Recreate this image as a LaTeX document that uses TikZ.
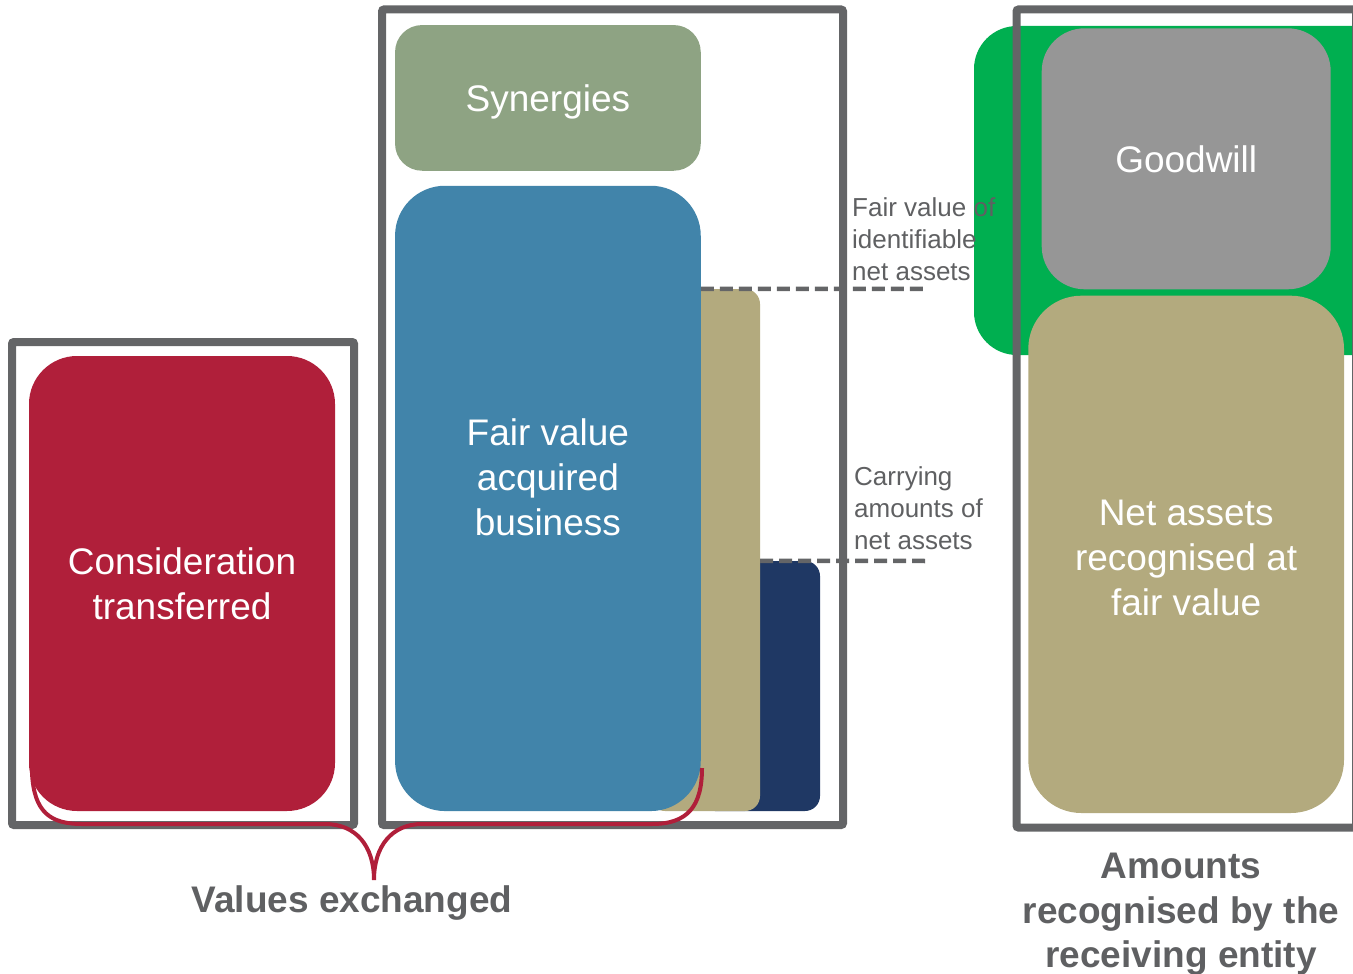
\documentclass[tikz,border=0pt]{standalone}
\usepackage{fontspec}
\setmainfont{Liberation Sans}
\definecolor{framegray}{HTML}{646567}
\definecolor{txtgray}{HTML}{5F6062}
\definecolor{consred}{HTML}{B01F3A}
\definecolor{fvblue}{HTML}{4184AA}
\definecolor{synsage}{HTML}{8EA383}
\definecolor{khaki}{HTML}{B3AA7E}
\definecolor{navy}{HTML}{1F3864}
\definecolor{gwgreen}{HTML}{00AF50}
\definecolor{gwgray}{HTML}{969696}

\begin{document}
\begin{tikzpicture}[x=1pt,y=-1pt]

        \useasboundingbox (0,0) rectangle (1353,974);
        \clip (0,0) rectangle (1353,974);

        \begin{scope}[every node/.style={rectangle, rounded corners=43pt, inner sep=0pt}]
          \node[fill=gwgreen, minimum width=426pt, minimum height=329pt] (9) at (1187,190.5) {};
        \end{scope}

        \begin{scope}[every node/.style={rectangle, draw=framegray, line width=8pt, rounded corners=2pt, inner sep=0pt}]
          \node[minimum width=342pt, minimum height=483pt]    (1) at (183,583.5)     {};
          \node[minimum width=461pt, minimum height=815.5pt]  (2) at (612.5,417.25)  {};
          \node[minimum width=339.5pt, minimum height=818pt]  (3) at (1186.25,418.5) {};
        \end{scope}

        \begin{scope}[every node/.style={rectangle, text=white, align=center, inner sep=0pt, font=\fontsize{37}{45}\selectfont}]
          \node[fill=consred, rounded corners=48pt, minimum width=306pt, minimum height=455pt]     (4)  at (182,583.5)      {Consideration\\transferred};
          \node[fill=synsage, rounded corners=27pt, minimum width=305.7pt, minimum height=145.7pt, text depth=0pt] (5) at (547.9,97.9) {Synergies};
          \node[fill=navy, rounded corners=15pt, minimum width=120pt, minimum height=250pt]        (6)  at (760,686)         {};
          \node[fill=khaki, rounded corners=15pt, minimum width=110pt, minimum height=522pt]       (7)  at (705,550)         {};
          \node[fill=fvblue, rounded corners=50pt, minimum width=305.7pt, minimum height=625.3pt]  (8)  at (547.9,498.4)     {};
          \node                                                                                     (10) at (547.9,477)       {Fair value\\acquired\\business};
          \node[fill=gwgray, rounded corners=43pt, minimum width=289pt, minimum height=261pt]      (11) at (1186.2,158.8)    {Goodwill};
          \node[fill=khaki, rounded corners=53pt, minimum width=315.7pt, minimum height=517.3pt]   (12) at (1186.15,554.35)  {};
          \node                                                                                     (19) at (1186.15,557.5)   {Net assets\\recognised at\\fair value};
        \end{scope}

        \begin{scope}[every node/.style={anchor=north west, align=left, inner sep=0pt, text=txtgray, font=\fontsize{26}{32}\selectfont}]
          \node (13) at (852,197) {Fair value of\\identifiable\\net assets};
          \node (14) at (854,466) {Carrying\\amounts of\\net assets};
        \end{scope}

        \coordinate (15) at (928,289);
        \coordinate (16) at (928,561);

        \begin{scope}[draw=framegray, line width=4.5pt, dash pattern=on 13pt off 6pt]
          \path[draw] (8.east |- 7.north) -- (15);
          \path[draw] (7.east |- 6.north) -- (16);
        \end{scope}

        \begin{scope}[every node/.style={align=center, inner sep=0pt, text=txtgray, font=\bfseries\fontsize{37}{44.5}\selectfont}]
          \node (17) at (352,903)    {Values exchanged};
          \node (18) at (1181,914.5) {Amounts\\recognised by the\\receiving entity};
        \end{scope}

        \draw[consred, line width=4pt] (32,773) .. controls (34,812) and (50,824) .. (82,824) -- (325,824)
          .. controls (356,824) and (374,846) .. (374,880) .. controls (374,846) and (392,824) .. (422,824)
          -- (652,824) .. controls (688,824) and (702,806) .. (702,768);

      \end{tikzpicture}
\end{document}
